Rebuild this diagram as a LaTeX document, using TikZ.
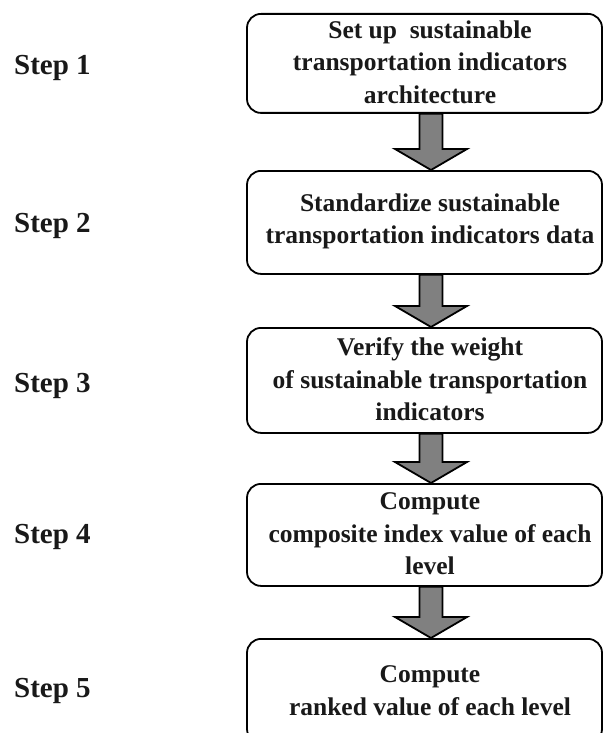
\documentclass[tikz,border=0pt]{standalone}
\usepackage{fontspec}
\setmainfont{Liberation Serif}
\usetikzlibrary{calc}
\definecolor{arrowgray}{RGB}{128,128,128}
\tikzset{
  stepbox/.style={draw=black, line width=1.8pt, rounded corners=14pt,
    minimum width=355pt, inner sep=0pt, anchor=north},
  boxtext/.style={font=\fontsize{25.5}{32.5}\selectfont\bfseries,
    align=center, inner sep=0pt, text=black!90},
  steplabel/.style={font=\fontsize{29}{34}\selectfont\bfseries,
    anchor=base west, inner sep=0pt, text=black!90},
  flowarrow/.style={draw=black, fill=arrowgray, line width=1.8pt, line join=miter},
}
% block arrow from the bottom of box #1 to the top of box #2
\newcommand\blockarrow[2]{%
  \path let \p1=(#1.south), \p2=(#2.north) in
    [flowarrow]
    (\x1+6.5pt-11.5pt,\y1) -- (\x1+6.5pt+11.5pt,\y1)
    -- (\x1+6.5pt+11.5pt,\y2+21pt) -- (\x1+6.5pt+36pt,\y2+21pt)
    -- (\x1+6.5pt,\y2) -- (\x1+6.5pt-36pt,\y2+21pt)
    -- (\x1+6.5pt-11.5pt,\y2+21pt) -- cycle;}
\begin{document}
\begin{tikzpicture}[x=1pt,y=-1pt]
\useasboundingbox (0,0) rectangle (604,733);
\fill[white] (0,0) rectangle (604,733);

% process boxes
\node[stepbox, minimum height=99pt]  (b1) at (424.5,13)  {};
\node[stepbox, minimum height=103pt] (b2) at (424.5,170) {};
\node[stepbox, minimum height=105pt] (b3) at (424.5,327) {};
\node[stepbox, minimum height=102pt] (b4) at (424.5,483) {};
\node[stepbox, minimum height=104pt] (b5) at (424.5,638) {};

% box texts
\node[boxtext] (t1) at ($(b1.center)+(5.5,-1.5)$) {Set up\ \ sustainable\\transportation indicators\\architecture};
\node[boxtext] (t2) at ($(b2.center)+(5.5,-1)$) {Standardize sustainable\\transportation indicators data};
\node[boxtext] (t3) at ($(b3.center)+(5.5,-1)$) {Verify the weight\\of sustainable transportation\\indicators};
\node[boxtext] (t4) at ($(b4.center)+(5.5,-1)$) {Compute\\composite index value of each\\level};
\node[boxtext] (t5) at ($(b5.center)+(5.5,0)$) {Compute\\ranked value of each level};

% step labels
\node[steplabel] (s1) at (14,75)  {Step 1};
\node[steplabel] (s2) at (14,232) {Step 2};
\node[steplabel] (s3) at (14,392) {Step 3};
\node[steplabel] (s4) at (14,543) {Step 4};
\node[steplabel] (s5) at (14,697) {Step 5};

% arrows between boxes
\blockarrow{b1}{b2}
\blockarrow{b2}{b3}
\blockarrow{b3}{b4}
\blockarrow{b4}{b5}
\end{tikzpicture}
\end{document}
